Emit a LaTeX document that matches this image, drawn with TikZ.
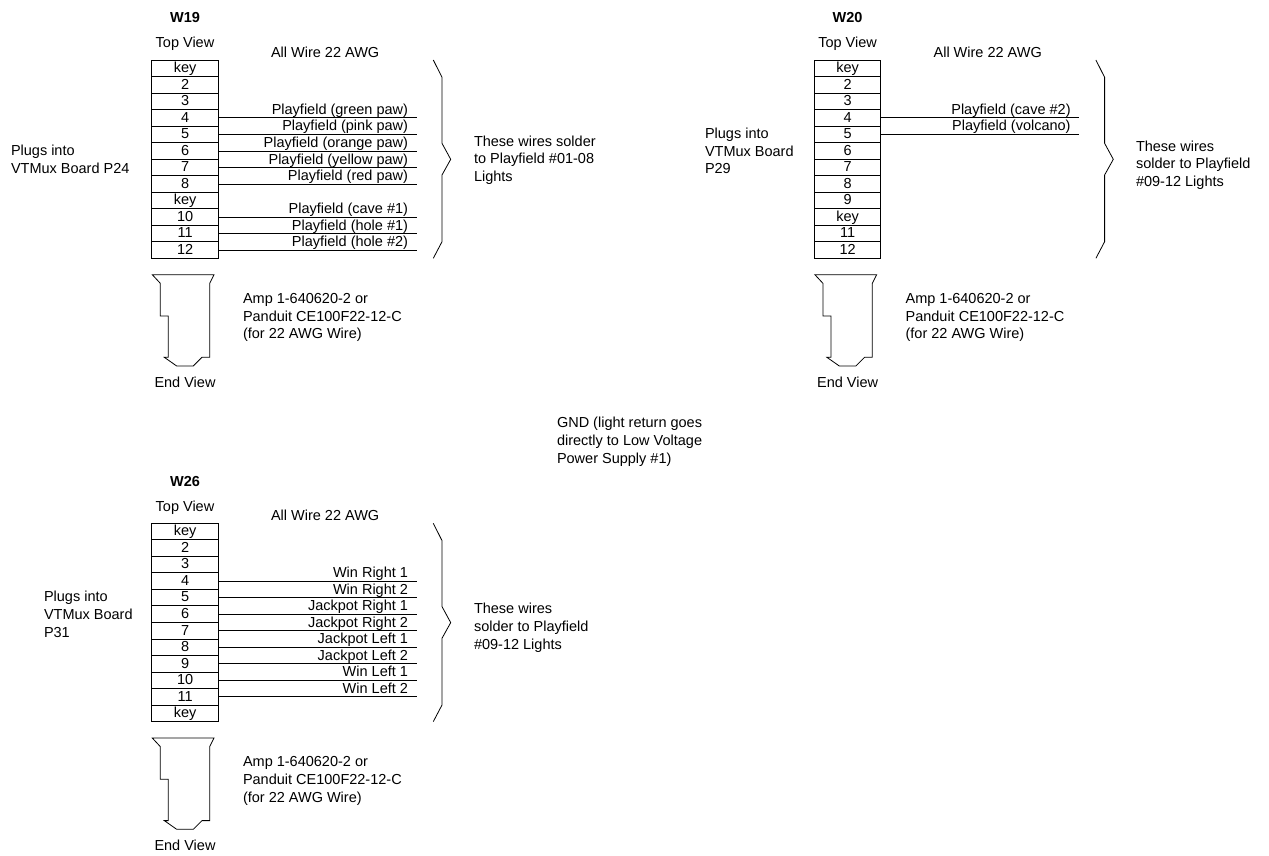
\documentclass[tikz,border=0pt]{standalone}
\usepackage{fontspec}
\setmainfont{Liberation Sans}
\newcommand{\pxfont}{\fontsize{14.5}{17.8}\selectfont}
\tikzset{
  x=1pt,y=-1pt,
  every node/.style={font=\pxfont,inner sep=0pt,outer sep=0pt},
  pinrow/.style={draw,line width=1pt,minimum width=66.3pt,minimum height=16.53pt,text height=8.6pt,text depth=0pt},
  wire/.style={line width=0.8pt},
  outline/.style={line width=0.8pt,line join=miter},
  lbl/.style={anchor=west,align=left},
  wirelbl/.style={anchor=base east},
  title/.style={font=\pxfont\bfseries},
}
% #1 prefix, #2 dx, #3 dy, #4 comma list of pin labels
\newcommand{\pinblock}[4]{%
  \foreach \lab [count=\i] in {#4}{%
    \node[pinrow] (#1\i) at ({#2+185.1},{#3+60+(\i-0.5)*16.53}) {\lab};
  }%
  \draw[outline] ({#2+433.3},{#3+60}) -- ({#2+442},{#3+77.3}) -- ({#2+442},{#3+143.3})
     -- ({#2+450.7},{#3+159.3}) -- ({#2+442},{#3+175}) -- ({#2+442},{#3+241.7}) -- ({#2+433.3},{#3+258.3});
  \draw[outline] ({#2+152.3},{#3+274.7}) -- ({#2+214},{#3+274.7}) -- ({#2+209.7},{#3+283.3})
     -- ({#2+209.7},{#3+357.3}) -- ({#2+202},{#3+357.3}) -- ({#2+193.3},{#3+366}) -- ({#2+176.7},{#3+366})
     -- ({#2+164.3},{#3+357.3}) -- ({#2+168.3},{#3+357.3}) -- ({#2+168.3},{#3+316})
     -- ({#2+160.3},{#3+316}) -- ({#2+160.3},{#3+283.3}) -- cycle;
  \node (#1top) at ({#2+185},{#3+44}) {Top View};
  \node[lbl] (#1awg) at ({#2+271},{#3+52}) {All Wire 22 AWG};
  \node[lbl] (#1amp) at ({#2+243},{#3+317.5}) {Amp 1-640620-2 or\\Panduit CE100F22-12-C\\(for 22 AWG Wire)};
  \node (#1end) at ({#2+185},{#3+382}) {End View};
}
% #1 row node, #2 label
\newcommand{\wirerow}[3]{%
  \coordinate (#1end) at ({#3},0);
  \draw[wire] (#1.east) -- (#1.east -| #1end);
  \node[wirelbl] (#1lbl) at ([xshift=-8.7pt,yshift=3.4pt]#1.east -| #1end) {#2};
}
\begin{document}
\begin{tikzpicture}
\useasboundingbox (0,0) rectangle (1269,855);
% W19
\node[title] (w19) at (185,18) {W19};
\pinblock{a}{0}{0}{key,2,3,4,5,6,7,8,key,10,11,12}
\wirerow{a4}{Playfield (green paw)}{416.7}
\wirerow{a5}{Playfield (pink paw)}{416.7}
\wirerow{a6}{Playfield (orange paw)}{416.7}
\wirerow{a7}{Playfield (yellow paw)}{416.7}
\wirerow{a8}{Playfield (red paw)}{416.7}
\wirerow{a10}{Playfield (cave \#1)}{416.7}
\wirerow{a11}{Playfield (hole \#1)}{416.7}
\wirerow{a12}{Playfield (hole \#2)}{416.7}
\node[lbl] (aplug) at (11,159) {Plugs into\\VTMux Board P24};
\node[lbl] (asol) at (474,160.2) {These wires solder\\to Playfield \#01-08\\Lights};
% W20
\node[title] (w20) at (847.6,18) {W20};
\pinblock{b}{662.6}{0}{key,2,3,4,5,6,7,8,9,key,11,12}
\wirerow{b4}{Playfield (cave \#2)}{1079.3}
\wirerow{b5}{Playfield (volcano)}{1079.3}
\node[lbl] (bplug) at (705,151) {Plugs into\\VTMux Board\\P29};
\node[lbl] (bsol) at (1136,165.2) {These wires\\solder to Playfield\\\#09-12 Lights};
% W26
\node[title] (w26) at (185,481) {W26};
\pinblock{c}{0}{463.3}{key,2,3,4,5,6,7,8,9,10,11,key}
\wirerow{c4}{Win Right 1}{416.7}
\wirerow{c5}{Win Right 2}{416.7}
\wirerow{c6}{Jackpot Right 1}{416.7}
\wirerow{c7}{Jackpot Right 2}{416.7}
\wirerow{c8}{Jackpot Left 1}{416.7}
\wirerow{c9}{Jackpot Left 2}{416.7}
\wirerow{c10}{Win Left 1}{416.7}
\wirerow{c11}{Win Left 2}{416.7}
\node[lbl] (cplug) at (44,614.3) {Plugs into\\VTMux Board\\P31};
\node[lbl] (csol) at (474,628) {These wires\\solder to Playfield\\\#09-12 Lights};
% GND
\node[lbl] (gnd) at (557,442) {GND (light return goes\\directly to Low Voltage\\Power Supply \#1)};
\end{tikzpicture}
\end{document}
